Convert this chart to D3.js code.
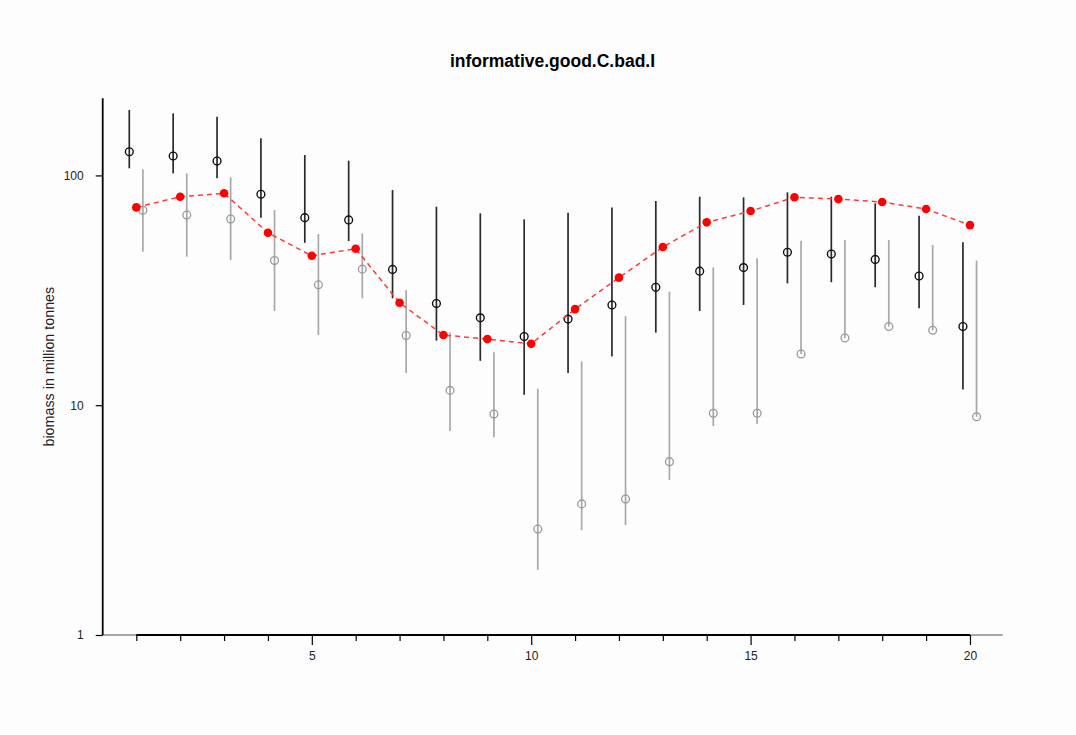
<!DOCTYPE html>
<html>
<head>
<meta charset="utf-8">
<script src="https://cdn.jsdelivr.net/npm/d3@7"></script>
<style>
  html, body { margin: 0; padding: 0; background: #fdfdfd; }
  svg { display: block; font-family: "Liberation Sans", Arial, Helvetica, sans-serif; }
</style>
</head>
<body>
<svg id="chart" width="1076" height="735"></svg>
<script>
// Years of the simulated stock
const years = d3.range(1, 21);

// True biomass (red, dashed)
const trueBiomass = [72.6, 80.8, 83.6, 56.3, 44.7, 48.0, 27.9, 20.2, 19.4, 18.5,
                     26.2, 35.9, 48.8, 62.5, 70.0, 80.3, 78.9, 76.6, 71.4, 60.8];

// Estimates from the informative run (black) with interval bounds
const goodMid = [126.8, 121.5, 115.5, 82.8, 65.5, 64.0, 39.0, 27.7, 24.0, 19.9,
                 23.7, 27.3, 32.6, 38.3, 39.7, 46.3, 45.5, 43.1, 36.5, 22.0];
const goodLo  = [107.4, 102.1, 97.1, 65.5, 50.9, 51.8, 29.2, 19.1, 15.6, 11.1,
                 13.8, 16.3, 20.7, 25.7, 27.3, 33.9, 34.3, 32.6, 26.4, 11.7];
const goodHi  = [192.6, 186.3, 180.1, 145.0, 122.7, 115.9, 86.4, 73.1, 68.4, 64.4,
                 68.8, 72.6, 77.4, 80.8, 80.3, 84.4, 80.8, 75.6, 66.8, 51.2];

// Estimates from the second run (grey) with interval bounds
const badMid = [70.5, 67.2, 64.6, 42.6, 33.4, 39.1, 20.1, 11.6, 9.15, 2.89,
                3.72, 3.91, 5.68, 9.22, 9.22, 16.7, 19.6, 22.0, 21.2, 8.91];
const badLo  = [46.6, 44.3, 42.8, 25.7, 20.2, 29.2, 13.8, 7.72, 7.25, 1.92,
                2.86, 3.01, 4.73, 8.12, 8.28, 16.7, 19.6, 22.0, 21.2, 8.91];
const badHi  = [106.3, 102.1, 98.1, 70.7, 55.6, 56.0, 31.7, 20.7, 17.0, 11.8,
                15.5, 24.4, 31.2, 39.8, 43.6, 52.0, 52.4, 52.4, 49.8, 42.6];

const xMajorTicks = [5, 10, 15, 20];
const yTicks = [1, 10, 100];

const chartTitle = "informative.good.C.bad.I";
const yTitle = "biomass in million tonnes";

// Layout
const plotLeft = 102.7, plotRight = 1002.7, plotTop = 98.3, plotBottom = 635;
const svg = d3.select("#chart");

const x = d3.scaleLinear().domain([0.234, 20.746]).range([plotLeft, plotRight]);
const y = d3.scaleLog().domain([1, 216.6]).range([plotBottom, plotTop]);

const offGood = -0.16, offBad = 0.15;

// Axis frame: grey full-length line, then black line spanning the ticks
svg.append("line")
  .attr("x1", plotLeft).attr("x2", plotRight).attr("y1", plotBottom).attr("y2", plotBottom)
  .attr("stroke", "#888").attr("stroke-width", 1.5);

const xAxis = d3.axisBottom(x)
  .tickValues(years)
  .tickSize(6)
  .tickFormat(d => xMajorTicks.includes(d) ? d : "");
const gx = svg.append("g").attr("transform", `translate(0,${plotBottom})`).call(xAxis);
gx.select(".domain").attr("d", `M${x(1)},0H${x(20)}`).attr("stroke", "#000").attr("stroke-width", 1.8);
gx.selectAll(".tick line").attr("stroke", "#000").attr("stroke-width", 1.2)
  .attr("y2", d => xMajorTicks.includes(d) ? 10 : 6);
gx.selectAll(".tick text").attr("y", 16).attr("font-size", 12).attr("fill", "#222")
  .attr("font-family", "Liberation Sans, Arial, sans-serif");

const yAxis = d3.axisLeft(y).tickValues(yTicks).tickSize(7).tickFormat(d3.format("d"));
const gy = svg.append("g").attr("transform", `translate(${plotLeft},0)`).call(yAxis);
gy.select(".domain").attr("d", `M0,${plotTop}V${plotBottom}`).attr("stroke", "#000").attr("stroke-width", 1.8);
gy.selectAll(".tick line").attr("stroke", "#000").attr("stroke-width", 1.2);
gy.selectAll(".tick text").attr("x", -19).attr("font-size", 12).attr("fill", "#222")
  .attr("font-family", "Liberation Sans, Arial, sans-serif");

// Titles
svg.append("text")
  .attr("x", 552.5).attr("y", 67)
  .attr("text-anchor", "middle")
  .attr("font-size", 17.5).attr("font-weight", "bold").attr("fill", "#000")
  .text(chartTitle);

svg.append("text")
  .attr("transform", `translate(54,${(plotTop + plotBottom) / 2}) rotate(-90)`)
  .attr("text-anchor", "middle")
  .attr("font-size", 14.3).attr("fill", "#222")
  .text(yTitle);

// Grey run: interval bars and open circles
const bad = years.map((yr, i) => ({ yr, mid: badMid[i], lo: badLo[i], hi: badHi[i] }));
svg.append("g").selectAll("line").data(bad).join("line")
  .attr("x1", d => x(d.yr + offBad)).attr("x2", d => x(d.yr + offBad))
  .attr("y1", d => y(d.lo)).attr("y2", d => y(d.hi))
  .attr("stroke", "#a8a8a8").attr("stroke-width", 1.7);
svg.append("g").selectAll("circle").data(bad).join("circle")
  .attr("cx", d => x(d.yr + offBad)).attr("cy", d => y(d.mid)).attr("r", 3.9)
  .attr("fill", "none").attr("stroke", "#999").attr("stroke-width", 1.3);

// Black run: interval bars and open circles
const good = years.map((yr, i) => ({ yr, mid: goodMid[i], lo: goodLo[i], hi: goodHi[i] }));
svg.append("g").selectAll("line").data(good).join("line")
  .attr("x1", d => x(d.yr + offGood)).attr("x2", d => x(d.yr + offGood))
  .attr("y1", d => y(d.lo)).attr("y2", d => y(d.hi))
  .attr("stroke", "#2a2a2a").attr("stroke-width", 1.7);
svg.append("g").selectAll("circle").data(good).join("circle")
  .attr("cx", d => x(d.yr + offGood)).attr("cy", d => y(d.mid)).attr("r", 3.9)
  .attr("fill", "none").attr("stroke", "#111").attr("stroke-width", 1.4);

// True biomass: dashed line with filled points
const truth = years.map((yr, i) => ({ yr, v: trueBiomass[i] }));
svg.append("path").datum(truth)
  .attr("d", d3.line().x(d => x(d.yr)).y(d => y(d.v)))
  .attr("fill", "none").attr("stroke", "#ff3a3a").attr("stroke-width", 1.5)
  .attr("stroke-dasharray", "5,4");
svg.append("g").selectAll("circle").data(truth).join("circle")
  .attr("cx", d => x(d.yr)).attr("cy", d => y(d.v)).attr("r", 4.3)
  .attr("fill", "#ff0000");
</script>
</body>
</html>
